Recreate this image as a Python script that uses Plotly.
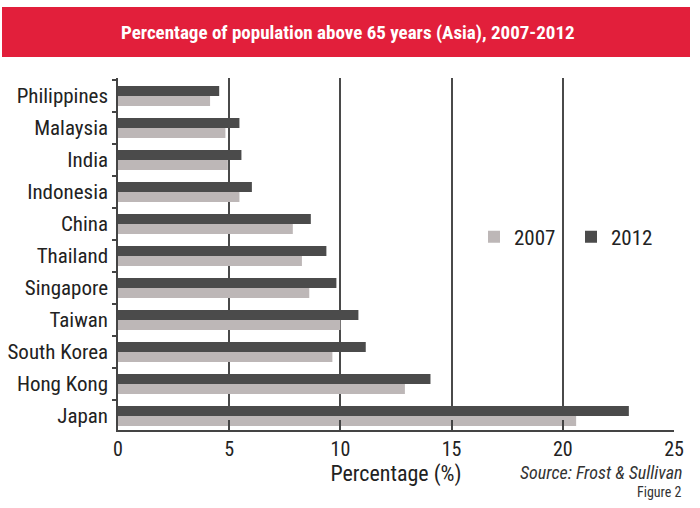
import plotly.graph_objects as go

countries = ["Japan", "Hong Kong", "South Korea", "Taiwan", "Singapore", "Thailand",
             "China", "Indonesia", "India", "Malaysia", "Philippines"]
v2007 = [20.6, 12.9, 9.64, 10.0, 8.6, 8.27, 7.86, 5.46, 4.94, 4.83, 4.14]
v2012 = [22.97, 14.05, 11.14, 10.81, 9.82, 9.37, 8.67, 6.02, 5.55, 5.46, 4.55]
x_ticks = [0, 5, 10, 15, 20, 25]

FONT = "Liberation Sans Narrow, Arial Narrow, Roboto Condensed, Roboto, sans-serif"

fig = go.Figure()
fig.add_trace(go.Bar(y=countries, x=v2007, orientation="h", name="2007",
                     marker=dict(color="#bdb7b7", line=dict(width=0))))
fig.add_trace(go.Bar(y=countries, x=v2012, orientation="h", name="2012",
                     marker=dict(color="#4b4b4b", line=dict(width=0))))

L, R, T, B = 118, 26, 78, 78
W, H = 700, 508
pw = W - L - R
ph = H - T - B

def px_x(x):
    return (x - L) / pw

def px_y(y):
    return (H - B - y) / ph

fig.update_layout(
    width=W, height=H,
    margin=dict(l=L, r=R, t=T, b=B, autoexpand=False),
    paper_bgcolor="white", plot_bgcolor="white",
    barmode="group", bargap=0.375, bargroupgap=0,
    font=dict(family=FONT, color="#222222", size=18),
    showlegend=True,
    legend=dict(orientation="h", x=px_x(474), y=px_y(237), xanchor="left", yanchor="middle",
                bgcolor="rgba(0,0,0,0)", font=dict(size=21, color="#222222"),
                entrywidth=52, entrywidthmode="pixels", traceorder="normal"),
    xaxis=dict(range=[0, 25], tickvals=x_ticks, ticks="inside", ticklen=10, tickwidth=1.5,
               tickcolor="#444444", showgrid=True, gridcolor="#4a4a4a", gridwidth=1.5,
               showline=True, linecolor="#444444", linewidth=1.5, zeroline=False,
               tickfont=dict(size=20, color="#222222"), automargin=False,
               title=dict(text="Percentage (%)", font=dict(size=22, color="#222222"), standoff=3)),
    yaxis=dict(range=[-0.44, 10.56], type="category", tickson="boundaries", ticks="outside",
               ticklen=4, tickwidth=1.5, tickcolor="#444444", showgrid=False,
               showline=True, linecolor="#444444", linewidth=1.5, automargin=False,
               tickfont=dict(size=21, color="#222222"), ticklabelstandoff=4),
    shapes=[dict(type="rect", xref="paper", yref="paper",
                 x0=px_x(2), x1=px_x(690), y0=px_y(57), y1=px_y(7),
                 fillcolor="#e21f3b", line=dict(width=0), layer="above")],
    annotations=[
        dict(text="<i>Percentage of population above 65 years (Asia), 2007-2012</i>".replace("<i>", "<b>").replace("</i>", "</b>"),
             xref="paper", yref="paper", x=px_x(348), y=px_y(32), showarrow=False,
             xanchor="center", yanchor="middle", font=dict(size=19, color="white", family=FONT)),
        dict(text="<i>Source: Frost &amp; Sullivan</i>", xref="paper", yref="paper",
             x=px_x(684), y=px_y(472), showarrow=False, xanchor="right", yanchor="middle",
             font=dict(size=18, color="#333333", family=FONT)),
        dict(text="Figure 2", xref="paper", yref="paper",
             x=px_x(684), y=px_y(492), showarrow=False, xanchor="right", yanchor="middle",
             font=dict(size=14, color="#333333", family=FONT)),
    ],
)

fig.write_html("out.html")
